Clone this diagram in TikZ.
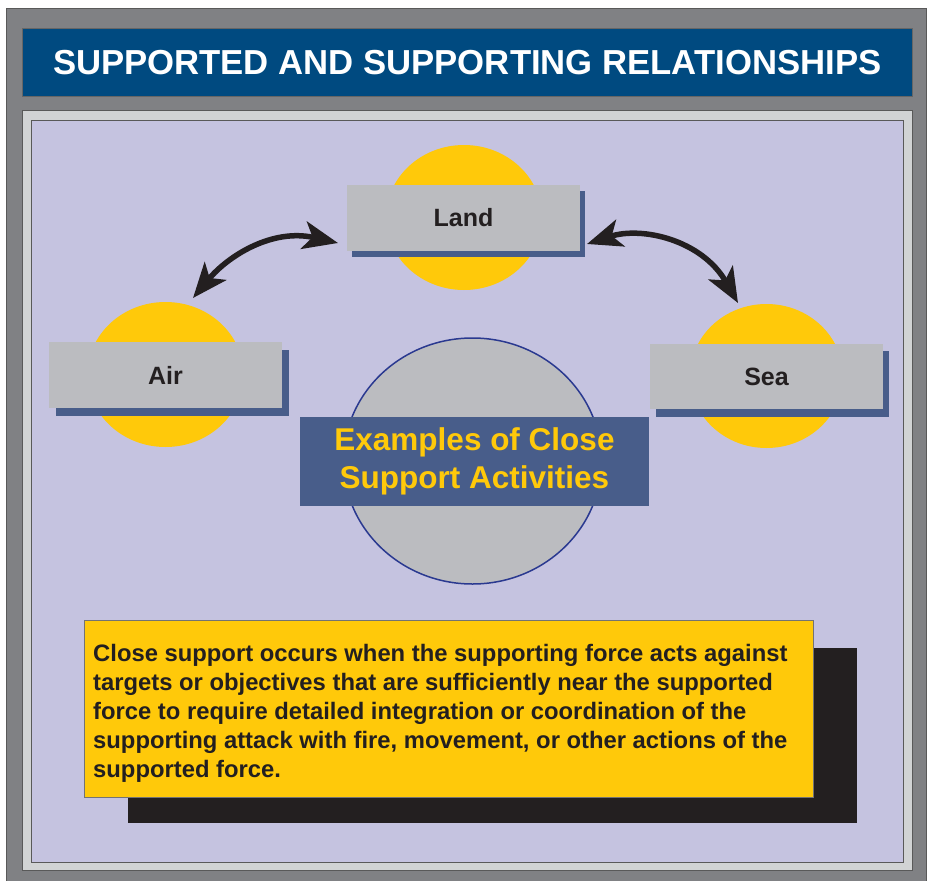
\documentclass[tikz,border=0pt]{standalone}
\usepackage{fontspec}
\setmainfont{Liberation Sans}
\usetikzlibrary{arrows.meta,shapes.geometric}
\definecolor{framegray}{RGB}{128,129,132}
\definecolor{panelgray}{RGB}{209,211,212}
\definecolor{lavender}{RGB}{197,195,224}
\definecolor{titleblue}{RGB}{0,74,128}
\definecolor{shadowblue}{RGB}{72,93,138}
\definecolor{boxgray}{RGB}{187,188,192}
\definecolor{sunyellow}{RGB}{255,201,10}
\definecolor{inkdark}{RGB}{35,31,32}
\definecolor{ringblue}{RGB}{42,57,144}
\tikzset{
  sun/.style={ellipse, fill=sunyellow, inner sep=0pt, minimum width=156pt, minimum height=145pt},
  shadowbox/.style={rectangle, fill=shadowblue, inner sep=0pt, minimum width=233pt, minimum height=66pt},
  labelbox/.style={rectangle, fill=boxgray, inner sep=0pt, minimum width=233pt, minimum height=66pt,
    text=inkdark, font=\fontsize{25}{30}\selectfont\bfseries},
  bigarrow/.style={line width=5.5pt, draw=inkdark,
    {Stealth[length=35pt,width=28pt,inset=9pt]}-{Stealth[length=35pt,width=28pt,inset=9pt]}},
}
\begin{document}
\begin{tikzpicture}[x=1pt,y=-1pt]
\useasboundingbox (0,0) rectangle (927,881);
\fill[white] (0,0) rectangle (927,881);
\draw[fill=framegray, draw=black!65, line width=0.8pt] (6,8) rectangle (926,890);
% title
\node[fill=titleblue, draw=black!60, line width=0.6pt, minimum width=890pt, minimum height=68pt,
  inner sep=0pt, anchor=north west, text=white, font=\fontsize{34.7}{40}\selectfont\bfseries]
  (title) at (22,28) {SUPPORTED AND SUPPORTING RELATIONSHIPS};
% panels
\node[fill=panelgray, draw=black!65, line width=0.8pt, minimum width=890pt, minimum height=760pt,
  inner sep=0pt, anchor=north west] (panel) at (22,110) {};
\node[fill=lavender, draw=black!65, line width=0.8pt, minimum width=872pt, minimum height=742pt,
  inner sep=0pt, anchor=north west] (inner) at (31,120) {};
% Land
\node[sun] (landsun) at (464,217.5) {};
\node[shadowbox] (landshadow) at (468.5,224) {};
\node[labelbox] (land) at (463.5,218) {Land};
% Air
\node[sun] (airsun) at (165.5,374.5) {};
\node[shadowbox] (airshadow) at (172.5,383) {};
\node[labelbox] (air) at (165.5,375) {Air};
% Sea
\node[sun, minimum width=153pt, minimum height=144pt] (seasun) at (766.5,376) {};
\node[shadowbox] (seashadow) at (772.5,384) {};
\node[labelbox, minimum height=65pt] (sea) at (766.5,376.5) {Sea};
% central
\node[ellipse, fill=boxgray, draw=ringblue, line width=1.5pt, inner sep=0pt,
  minimum width=258pt, minimum height=246pt] (ring) at (472.5,461) {};
\node[rectangle, fill=shadowblue, inner sep=0pt, minimum width=349pt, minimum height=89pt,
  align=center, text=sunyellow, font=\fontsize{31.5}{38}\selectfont\bfseries]
  (examples) at (474.5,461.5) {Examples of Close\\Support Activities};
% arrows
\coordinate (airtip) at (193,298);
\coordinate (landtipl) at (338,243);
\coordinate (landtipr) at (587,244);
\coordinate (seatip) at (738,303);
\draw[bigarrow] (airtip) .. controls (228,256) and (272,228) .. (landtipl);
\draw[bigarrow] (landtipr) .. controls (642,226) and (702,240) .. (seatip);
% definition box
\node[rectangle, fill=inkdark, inner sep=0pt, minimum width=729pt, minimum height=175pt,
  anchor=north west] (defshadow) at (128,648) {};
\node[rectangle, fill=sunyellow, draw=black!55, line width=0.6pt, inner sep=0pt,
  minimum width=729pt, minimum height=177pt, anchor=north west] (defbox) at (84,620) {};
\node[anchor=west, inner sep=0pt, align=left, text=inkdark,
  font=\fontsize{23.8}{29}\selectfont\bfseries] (deftext) at (93,713)
  {Close support occurs when the supporting force acts against\\
   targets or objectives that are sufficiently near the supported\\
   force to require detailed integration or coordination of the\\
   supporting attack with fire, movement, or other actions of the\\
   supported force.};
\end{tikzpicture}
\end{document}
